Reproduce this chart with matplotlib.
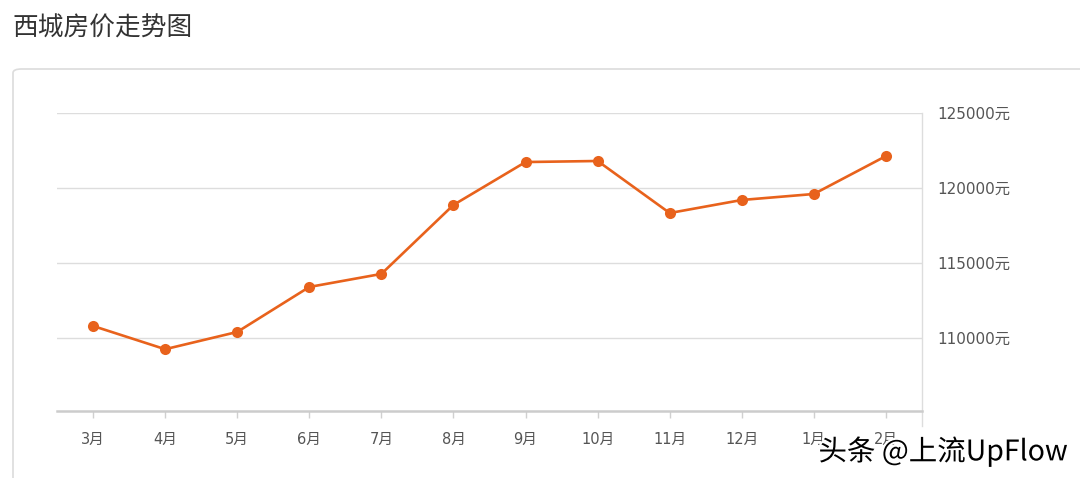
import matplotlib
matplotlib.use("Agg")
import matplotlib.pyplot as plt
import matplotlib.patheffects as pe
from matplotlib.patches import FancyBboxPatch

plt.rcParams['font.family'] = ['Noto Sans CJK SC', 'DejaVu Sans']

# 数据
months = ['3月', '4月', '5月', '6月', '7月', '8月', '9月', '10月', '11月', '12月', '1月', '2月']
prices = [110800, 109250, 110400, 113400, 114270, 118870, 121730, 121800, 118330, 119200, 119600, 122130]
yticks = [110000, 115000, 120000, 125000]
ytick_labels = [f'{v}元' for v in yticks]

W, H = 1080, 478
fig = plt.figure(figsize=(W / 100, H / 100), dpi=100)
fig.patch.set_facecolor('white')

# 标题
fig.text(12 / W, 1 - 29 / H, '西城房价走势图', fontsize=18.5, color='#333333',
         va='center', ha='left')

# 卡片边框
card = FancyBboxPatch((13 / W, -0.1), 1.2, (H - 69) / H + 0.1,
                      boxstyle='round,pad=0,rounding_size=0.008',
                      transform=fig.transFigure, facecolor='white',
                      edgecolor='#dcdcdc', linewidth=1.2, zorder=-5)
fig.patches.append(card)

ax = fig.add_axes([57 / W, 67 / H, (922 - 57) / W, (411 - 113) / H])
ax.set_zorder(2)
ax.set_facecolor('none')

x = list(range(len(months)))
ax.plot(x, prices, color='#e8621c', linewidth=1.9, marker='o', markersize=8,
        markeredgewidth=0, zorder=3)

ax.set_xlim(-0.5, len(months) - 0.5)
ax.set_ylim(105130, 125000)

ax.set_xticks(x)
ax.set_xticklabels(months, family=['DejaVu Sans', 'Noto Sans CJK SC'],
                   fontsize=10.5, color='#555555')
ax.set_yticks(yticks)
ax.set_yticklabels(ytick_labels, family=['DejaVu Sans', 'Noto Sans CJK SC'],
                   fontsize=11, color='#555555')
ax.yaxis.tick_right()
ax.tick_params(axis='y', length=0, pad=11)
ax.tick_params(axis='x', length=5, width=1, color='#d0d0d0', pad=10)

ax.grid(axis='y', color='#dddddd', linewidth=1)
for s in ['top', 'left']:
    ax.spines[s].set_visible(False)
ax.spines['bottom'].set_color('#cccccc')
ax.spines['bottom'].set_linewidth(1.8)
ax.spines['right'].set_color('#dddddd')
ax.spines['right'].set_linewidth(1)
ax.spines['right'].set_bounds(105130 - 1000, 125000)
ax.spines['right'].set_clip_on(False)

# 水印
fig.text(1068 / W, 1 - 452 / H, '头条 @上流UpFlow', fontsize=20.5, color='black',
         ha='right', va='center', zorder=10,
         path_effects=[pe.withStroke(linewidth=3, foreground='white')])

fig.savefig('out.png', dpi=100)
